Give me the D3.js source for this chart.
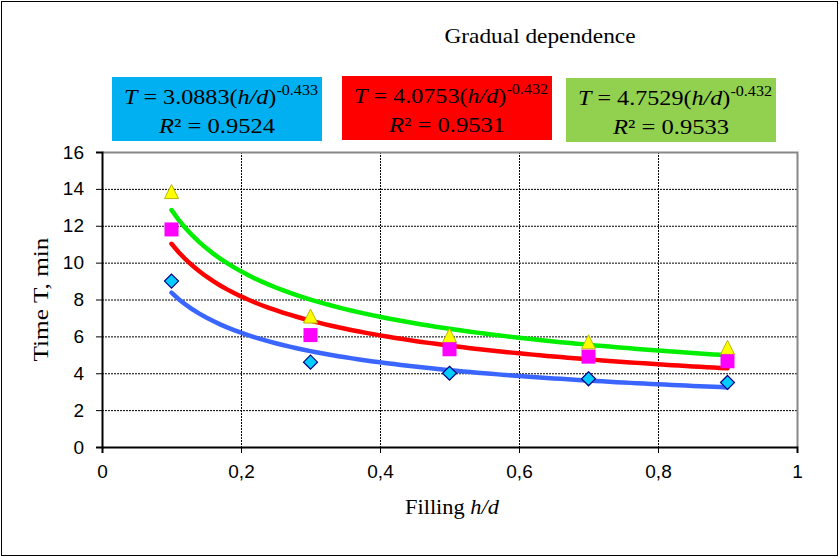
<!DOCTYPE html>
<meta charset="utf-8">
<style>
body { margin: 0; background: #fff; }
text { font-family: "Liberation Serif", "Times New Roman", serif; }
.tick text { font-family: "Liberation Sans", Arial, sans-serif; font-size: 19px; fill: #000; }
.grid line { stroke: #000; stroke-dasharray: 2,1; stroke-width: 1; }
</style>
<body>
<script src="https://cdn.jsdelivr.net/npm/d3@7"></script>
<script>
// data
var xVals = [0.1, 0.3, 0.5, 0.7, 0.9];
var seriesBlue = [9.0, 4.6, 4.0, 3.7, 3.5];
var seriesMagenta = [11.8, 6.07, 5.3, 4.9, 4.65];
var seriesYellow = [13.8, 7.05, 6.0, 5.65, 5.35];
// power trend coefficients T = a*(h/d)^b
var trendA = [3.0883, 4.0753, 4.7529];
var trendB = [-0.433, -0.432, -0.432];
var trendR2 = ["0.9524", "0.9531", "0.9533"];
var xTicks = [0, 0.2, 0.4, 0.6, 0.8, 1];
var yTicks = [0, 2, 4, 6, 8, 10, 12, 14, 16];

var W = 839, H = 557;
var margin = {top: 152, right: 42, bottom: 110, left: 102},
    width = W - margin.left - margin.right,
    height = H - margin.top - margin.bottom;

var svg = d3.select("body").append("svg")
    .attr("width", W)
    .attr("height", H);

svg.append("rect")
    .attr("x", 1.5).attr("y", 1.5)
    .attr("width", W - 3).attr("height", H - 3)
    .attr("fill", "#fff").attr("stroke", "#000").attr("stroke-width", 1);

var g = svg.append("g")
    .attr("transform", "translate(" + margin.left + "," + margin.top + ")");

var x = d3.scaleLinear().domain([0, 1]).range([0, width]),
    y = d3.scaleLinear().domain([0, 16]).range([height, 0]);

// grid
g.append("g").attr("class", "grid")
  .selectAll("line").data(yTicks.slice(1, -1)).enter().append("line")
    .attr("x1", 0).attr("x2", width)
    .attr("y1", function(d) { return y(d) + 0.5; })
    .attr("y2", function(d) { return y(d) + 0.5; });
g.append("g").attr("class", "grid")
  .selectAll("line").data(xTicks.slice(1, -1)).enter().append("line")
    .attr("y1", 0).attr("y2", height)
    .attr("x1", function(d) { return x(d) + 0.5; })
    .attr("x2", function(d) { return x(d) + 0.5; });

// plot border top/right in gray
g.append("path")
    .attr("d", "M0,0.5H" + (width + 0.5) + "V" + height)
    .attr("fill", "none").attr("stroke", "#888").attr("stroke-width", 2);

var fmt = function(d) { return d === 0 ? "0" : d === 1 ? "1" : String(d).replace(".", ","); };

var xAxis = g.append("g")
    .attr("transform", "translate(0," + height + ")")
    .call(d3.axisBottom(x).tickValues(xTicks).tickFormat(fmt).tickSize(6).tickPadding(12));
var yAxis = g.append("g")
    .call(d3.axisLeft(y).tickValues(yTicks).tickSize(6).tickPadding(12));
[xAxis, yAxis].forEach(function(a) {
  a.select(".domain").attr("stroke", "#000").attr("stroke-width", 2);
  a.selectAll(".tick line").attr("stroke", "#000");
});

// trend lines
var trendColors = ["#3a66ff", "#ff0000", "#00ee00"];
var xs = d3.range(0.1, 0.9001, 0.01);
trendA.forEach(function(a, i) {
  g.append("path")
      .datum(xs)
      .attr("fill", "none")
      .attr("stroke", trendColors[i])
      .attr("stroke-width", 4.5)
      .attr("stroke-linecap", "round")
      .attr("d", d3.line()
        .x(function(d) { return x(d); })
        .y(function(d) { return y(a * Math.pow(d, trendB[i])); }));
});

// markers
g.selectAll(".tri").data(seriesYellow).enter().append("path")
    .attr("transform", function(d, i) { return "translate(" + x(xVals[i]) + "," + y(d) + ")"; })
    .attr("d", "M0,-8L7,6L-7,6Z")
    .attr("fill", "#ffff00").attr("stroke", "#b8b800").attr("stroke-width", 1);
g.selectAll(".sq").data(seriesMagenta).enter().append("rect")
    .attr("x", function(d, i) { return x(xVals[i]) - 7; })
    .attr("y", function(d) { return y(d) - 7; })
    .attr("width", 14).attr("height", 14)
    .attr("fill", "#ff00ff");
g.selectAll(".dia").data(seriesBlue).enter().append("path")
    .attr("transform", function(d, i) { return "translate(" + x(xVals[i]) + "," + y(d) + ")"; })
    .attr("d", "M0,-7L7,0L0,7L-7,0Z")
    .attr("fill", "#00ccff").attr("stroke", "#000080").attr("stroke-width", 1.2);

// titles
svg.append("text")
    .attr("x", 540).attr("y", 43)
    .attr("text-anchor", "middle")
    .attr("textLength", 191).attr("lengthAdjust", "spacingAndGlyphs")
    .style("font-size", "21px")
    .text("Gradual dependence");

svg.append("text")
    .attr("transform", "translate(48," + (margin.top + height / 2) + ")rotate(-90)")
    .attr("text-anchor", "middle")
    .attr("textLength", 124).attr("lengthAdjust", "spacingAndGlyphs")
    .style("font-size", "22px")
    .text("Time T, min");

var xt = svg.append("text")
    .attr("x", 452).attr("y", 514)
    .attr("text-anchor", "middle")
    .attr("textLength", 94).attr("lengthAdjust", "spacingAndGlyphs")
    .style("font-size", "21px");
xt.append("tspan").text("Filling ");
xt.append("tspan").style("font-style", "italic").text("h/d");

// equation boxes
var boxX = [112, 342, 566], boxY = [77, 76, 78];
var boxColors = ["#00b0f0", "#ff0000", "#92d050"];
trendA.forEach(function(a, i) {
  var bg = svg.append("g").attr("transform", "translate(" + boxX[i] + "," + boxY[i] + ")");
  bg.append("rect").attr("width", 210).attr("height", 64).attr("fill", boxColors[i]);
  var t1 = bg.append("text").attr("x", 12).attr("y", 27)
      .style("font-size", "21px");
  t1.append("tspan").style("font-style", "italic").text("T");
  t1.append("tspan").text(" = " + a.toFixed(4) + "(");
  t1.append("tspan").style("font-style", "italic").text("h/d");
  t1.append("tspan").text(")");
  t1.append("tspan").attr("dy", -9).style("font-size", "14px").text(String(trendB[i]));
  t1.attr("textLength", 194).attr("lengthAdjust", "spacingAndGlyphs");
  var t2 = bg.append("text").attr("x", 105).attr("y", 56).attr("text-anchor", "middle")
      .attr("textLength", 116).attr("lengthAdjust", "spacingAndGlyphs")
      .style("font-size", "21px");
  t2.append("tspan").style("font-style", "italic").text("R");
  t2.append("tspan").text("² = " + trendR2[i]);
});
</script>
</body>
